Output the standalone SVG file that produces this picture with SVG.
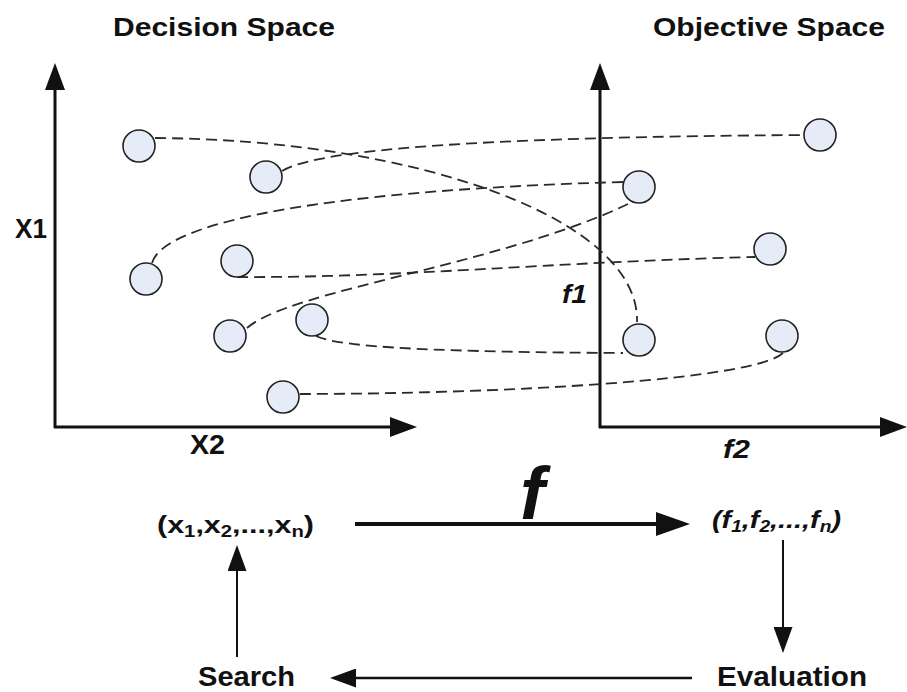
<svg xmlns="http://www.w3.org/2000/svg" width="907" height="692" viewBox="0 0 907 692">
<style>
.t{font-family:"Liberation Sans",Arial,Helvetica,sans-serif;font-weight:bold;fill:#111}
.i{font-style:italic}
.node circle{fill:#e6ecf7;stroke:#222;stroke-width:1.6}
.dash{fill:none;stroke:#2a2a2a;stroke-width:1.8;stroke-dasharray:11 6}
.axis{fill:none;stroke:#111;stroke-width:3}
.flow{fill:none;stroke:#111;stroke-width:2}
.big{stroke-width:4}
.back{stroke-width:2.5}
</style>
<defs>
<marker id="ah" markerUnits="userSpaceOnUse" markerWidth="27" markerHeight="20" refX="21" refY="10" orient="auto"><path d="M0,0 L27,10 L0,20 z" fill="#111"/></marker>
<marker id="fh" markerUnits="userSpaceOnUse" markerWidth="26" markerHeight="19" refX="21" refY="9.5" orient="auto"><path d="M0,0 L26,9.5 L0,19 z" fill="#111"/></marker>
<marker id="bh" markerUnits="userSpaceOnUse" markerWidth="34" markerHeight="24" refX="28" refY="12" orient="auto"><path d="M0,0 L34,12 L0,24 z" fill="#111"/></marker>
</defs>
<g id="titles">
<text class="t" x="113" y="36" font-size="26" textLength="222" lengthAdjust="spacingAndGlyphs">Decision Space</text>
<text class="t" x="653" y="36" font-size="26" textLength="232" lengthAdjust="spacingAndGlyphs">Objective Space</text>
</g>
<g id="axes">
<line class="axis" x1="55" y1="428" x2="55" y2="69" marker-end="url(#ah)"/>
<line class="axis" x1="54" y1="427" x2="411" y2="427" marker-end="url(#ah)"/>
<line class="axis" x1="600" y1="428" x2="600" y2="69" marker-end="url(#ah)"/>
<line class="axis" x1="599" y1="427" x2="901" y2="427" marker-end="url(#ah)"/>
<text class="t" x="15" y="238" font-size="27" textLength="32" lengthAdjust="spacingAndGlyphs">X1</text>
<text class="t" x="190" y="454" font-size="27" textLength="35" lengthAdjust="spacingAndGlyphs">X2</text>
<text class="t i" x="562" y="303" font-size="26" textLength="25" lengthAdjust="spacingAndGlyphs">f1</text>
<text class="t i" x="723" y="458" font-size="26" textLength="27" lengthAdjust="spacingAndGlyphs">f2</text>
</g>
<g id="connectors">
<path class="dash" d="M155,138 C420,140 640,220 637,322"/>
<path class="dash" d="M282,171 C320,148 500,137 804,135"/>
<path class="dash" d="M152,263 C162,226 300,191 623,182"/>
<path class="dash" d="M247,328 C290,290 500,265 628,204"/>
<path class="dash" d="M237,277 C400,278 550,262 755,257"/>
<path class="dash" d="M316,336 C340,348 450,352 623,353"/>
<path class="dash" d="M300,394 C500,394 760,380 784,352"/>
</g>
<g id="n1" class="node"><circle cx="139" cy="146" r="16"/></g>
<g id="n2" class="node"><circle cx="266" cy="177" r="16"/></g>
<g id="n3" class="node"><circle cx="146" cy="279" r="16"/></g>
<g id="n4" class="node"><circle cx="237" cy="261" r="16"/></g>
<g id="n5" class="node"><circle cx="230" cy="336" r="16"/></g>
<g id="n6" class="node"><circle cx="312" cy="320" r="16"/></g>
<g id="n7" class="node"><circle cx="283" cy="397" r="16"/></g>
<g id="n8" class="node"><circle cx="820" cy="135" r="16"/></g>
<g id="n9" class="node"><circle cx="639" cy="187" r="16"/></g>
<g id="n10" class="node"><circle cx="770" cy="249" r="16"/></g>
<g id="n11" class="node"><circle cx="639" cy="340" r="16"/></g>
<g id="n12" class="node"><circle cx="782" cy="336" r="16"/></g>
<g id="flow">
<line class="flow big" x1="355" y1="524" x2="684" y2="524" marker-end="url(#bh)"/>
<line class="flow" x1="783" y1="540" x2="783" y2="648" marker-end="url(#fh)"/>
<line class="flow back" x1="692" y1="678" x2="335" y2="678" marker-end="url(#fh)"/>
<line class="flow" x1="237" y1="657" x2="237" y2="550" marker-end="url(#fh)"/>
<text class="t i" x="520" y="519" font-size="74">f</text>
</g>
<g id="xvec">
<text class="t" transform="translate(157,533) scale(1.27,1)" font-size="24">(x<tspan font-size="16" dy="4">1</tspan><tspan dy="-4">,x</tspan><tspan font-size="16" dy="4">2</tspan><tspan dy="-4">,...,x</tspan><tspan font-size="16" dy="4">n</tspan><tspan dy="-4">)</tspan></text>
</g>
<g id="fvec">
<text class="t i" transform="translate(712,528) scale(1.2,1)" font-size="24">(f<tspan font-size="16" dy="4">1</tspan><tspan dy="-4">,f</tspan><tspan font-size="16" dy="4">2</tspan><tspan dy="-4">,...,f</tspan><tspan font-size="16" dy="4">n</tspan><tspan dy="-4">)</tspan></text>
</g>
<g id="search"><text class="t" x="198" y="686" font-size="27" textLength="97" lengthAdjust="spacingAndGlyphs">Search</text></g>
<g id="evaluation"><text class="t" x="717" y="686" font-size="27" textLength="150" lengthAdjust="spacingAndGlyphs">Evaluation</text></g>
</svg>
